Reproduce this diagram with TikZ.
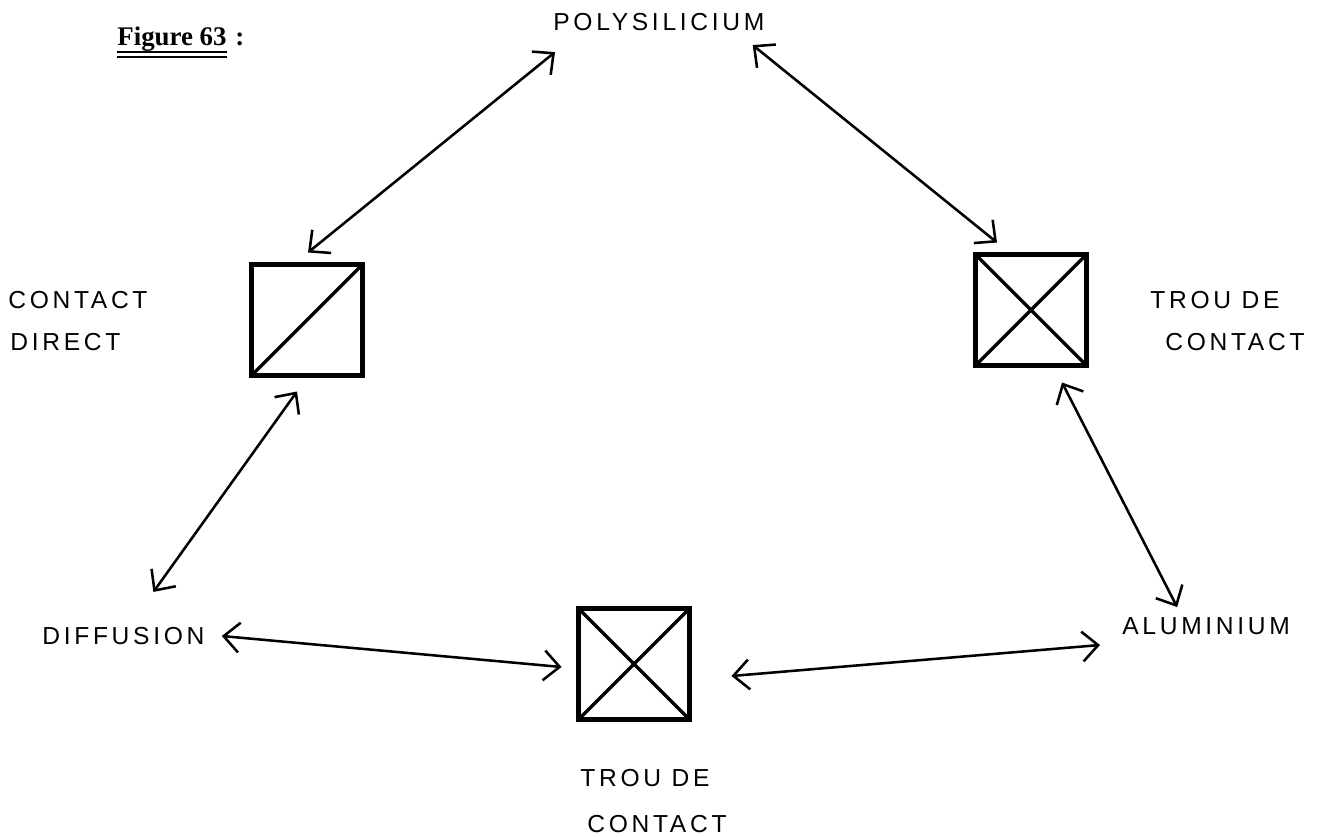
\documentclass[tikz,border=0pt]{standalone}
\usepackage{fontspec}
\setmainfont{Liberation Serif}
\newfontfamily\plotfont[LetterSpace=15]{Liberation Sans}
\usetikzlibrary{arrows.meta}

\begin{document}
\begin{tikzpicture}[
    x=0.02cm, y=-0.02cm,
    lbl/.style={inner sep=0pt, anchor=west, font=\plotfont\fontsize{14}{16}\selectfont},
    cbox/.style={draw, line width=2.5pt, minimum size=2.22cm, inner sep=0pt, outer sep=0pt},
    dbox/.style={cbox, path picture={
        \draw[line width=1.9pt] (path picture bounding box.south west) -- (path picture bounding box.north east);}},
    xbox/.style={cbox, path picture={
        \draw[line width=1.9pt] (path picture bounding box.north west) -- (path picture bounding box.south east)
                                (path picture bounding box.south west) -- (path picture bounding box.north east);}},
    link/.style={line width=1.45pt, line cap=round,
                 {Straight Barb[length=9pt,width=17pt]}-{Straight Barb[length=9pt,width=17pt]}},
  ]
  \useasboundingbox (0,0) rectangle (1318,836);

  % title
  \node[inner sep=0pt, anchor=base west, font=\bfseries\fontsize{15.3}{18}\selectfont] (fig) at (117,45) {Figure 63};
  \node[inner sep=0pt, anchor=base west, font=\bfseries\fontsize{15.3}{18}\selectfont] (colon) at ([shift={(8,0)}]fig.base east) {:};
  \draw[line width=1.2pt] ([shift={(0,7)}]fig.base west) -- ([shift={(0,7)}]fig.base east);
  \draw[line width=1.2pt] ([shift={(0,12)}]fig.base west) -- ([shift={(0,12)}]fig.base east);

  % layers
  \node[lbl] (poly) at (553,22) {POLYSILICIUM};
  \node[lbl] (diff) at (42,636) {DIFFUSION};
  \node[lbl] (alu)  at (1122,626) {ALUMINIUM};

  % contacts
  \node[dbox] (b1) at (307,320) {};
  \node[xbox] (b2) at (1031,310) {};
  \node[xbox] (b3) at (634,664) {};

  \node[lbl] (cd1) at (8,300) {CONTACT};
  \node[lbl] (cd2) at (10,342) {DIRECT};
  \node[lbl] (tr1) at (1150,300) {TROU DE};
  \node[lbl] (tr2) at (1165,342) {CONTACT};
  \node[lbl] (tb1) at (580,778) {TROU DE};
  \node[lbl] (tb2) at (587,824) {CONTACT};

  % connections
  \draw[link] ([shift={(2,21)}]poly.south west) -- ([shift={(1,-12)}]b1.north);
  \draw[link] ([shift={(-12,14)}]poly.south east) -- ([shift={(-34,-12)}]b2.north);
  \draw[link] ([shift={(-10,16)}]b1.south) -- ([shift={(30,-35)}]diff.north);
  \draw[link] ([shift={(31,17)}]b2.south) -- ([shift={(-29,-10)}]alu.north);
  \draw[link] ([shift={(17,0)}]diff.east) -- ([shift={(-17,3)}]b3.west);
  \draw[link] ([shift={(42,12)}]b3.east) -- ([shift={(-22,19)}]alu.west);
\end{tikzpicture}
\end{document}
